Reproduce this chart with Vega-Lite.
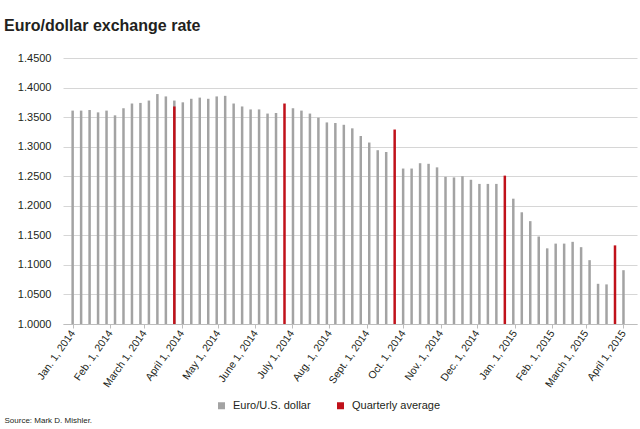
{
  "$schema": "https://vega.github.io/schema/vega-lite/v6.json",
  "width": 574,
  "height": 266,
  "autosize": "none",
  "padding": {"left": 63, "top": 58, "right": 3, "bottom": 105},
  "background": "white",
  "config": {
    "view": {"stroke": null},
    "font": "Liberation Sans",
    "text": {"color": "#231f20"}
  },
  "title": {
    "text": "Euro/dollar exchange rate",
    "anchor": "start",
    "frame": "group",
    "dx": -59,
    "offset": 18,
    "font": "Liberation Sans",
    "fontSize": 16,
    "fontWeight": "bold",
    "color": "#231f20"
  },
  "data": {
    "values": [
      {"date": "2014-01-01", "rate": 1.361, "series": "Euro/U.S. dollar"},
      {"date": "2014-01-08", "rate": 1.361, "series": "Euro/U.S. dollar"},
      {"date": "2014-01-15", "rate": 1.362, "series": "Euro/U.S. dollar"},
      {"date": "2014-01-22", "rate": 1.358, "series": "Euro/U.S. dollar"},
      {"date": "2014-01-29", "rate": 1.361, "series": "Euro/U.S. dollar"},
      {"date": "2014-02-05", "rate": 1.353, "series": "Euro/U.S. dollar"},
      {"date": "2014-02-12", "rate": 1.365, "series": "Euro/U.S. dollar"},
      {"date": "2014-02-19", "rate": 1.373, "series": "Euro/U.S. dollar"},
      {"date": "2014-02-26", "rate": 1.374, "series": "Euro/U.S. dollar"},
      {"date": "2014-03-05", "rate": 1.378, "series": "Euro/U.S. dollar"},
      {"date": "2014-03-12", "rate": 1.389, "series": "Euro/U.S. dollar"},
      {"date": "2014-03-19", "rate": 1.385, "series": "Euro/U.S. dollar"},
      {"date": "2014-03-26", "rate": 1.378, "series": "Euro/U.S. dollar"},
      {"date": "2014-04-02", "rate": 1.375, "series": "Euro/U.S. dollar"},
      {"date": "2014-04-09", "rate": 1.381, "series": "Euro/U.S. dollar"},
      {"date": "2014-04-16", "rate": 1.383, "series": "Euro/U.S. dollar"},
      {"date": "2014-04-23", "rate": 1.381, "series": "Euro/U.S. dollar"},
      {"date": "2014-04-30", "rate": 1.385, "series": "Euro/U.S. dollar"},
      {"date": "2014-05-07", "rate": 1.386, "series": "Euro/U.S. dollar"},
      {"date": "2014-05-14", "rate": 1.373, "series": "Euro/U.S. dollar"},
      {"date": "2014-05-21", "rate": 1.368, "series": "Euro/U.S. dollar"},
      {"date": "2014-05-28", "rate": 1.363, "series": "Euro/U.S. dollar"},
      {"date": "2014-06-04", "rate": 1.363, "series": "Euro/U.S. dollar"},
      {"date": "2014-06-11", "rate": 1.356, "series": "Euro/U.S. dollar"},
      {"date": "2014-06-18", "rate": 1.357, "series": "Euro/U.S. dollar"},
      {"date": "2014-07-02", "rate": 1.365, "series": "Euro/U.S. dollar"},
      {"date": "2014-07-09", "rate": 1.361, "series": "Euro/U.S. dollar"},
      {"date": "2014-07-16", "rate": 1.356, "series": "Euro/U.S. dollar"},
      {"date": "2014-07-23", "rate": 1.349, "series": "Euro/U.S. dollar"},
      {"date": "2014-07-30", "rate": 1.341, "series": "Euro/U.S. dollar"},
      {"date": "2014-08-06", "rate": 1.340, "series": "Euro/U.S. dollar"},
      {"date": "2014-08-13", "rate": 1.337, "series": "Euro/U.S. dollar"},
      {"date": "2014-08-20", "rate": 1.331, "series": "Euro/U.S. dollar"},
      {"date": "2014-08-27", "rate": 1.318, "series": "Euro/U.S. dollar"},
      {"date": "2014-09-03", "rate": 1.307, "series": "Euro/U.S. dollar"},
      {"date": "2014-09-10", "rate": 1.294, "series": "Euro/U.S. dollar"},
      {"date": "2014-09-17", "rate": 1.291, "series": "Euro/U.S. dollar"},
      {"date": "2014-10-01", "rate": 1.263, "series": "Euro/U.S. dollar"},
      {"date": "2014-10-08", "rate": 1.263, "series": "Euro/U.S. dollar"},
      {"date": "2014-10-15", "rate": 1.272, "series": "Euro/U.S. dollar"},
      {"date": "2014-10-22", "rate": 1.271, "series": "Euro/U.S. dollar"},
      {"date": "2014-10-29", "rate": 1.265, "series": "Euro/U.S. dollar"},
      {"date": "2014-11-05", "rate": 1.249, "series": "Euro/U.S. dollar"},
      {"date": "2014-11-12", "rate": 1.248, "series": "Euro/U.S. dollar"},
      {"date": "2014-11-19", "rate": 1.250, "series": "Euro/U.S. dollar"},
      {"date": "2014-11-26", "rate": 1.244, "series": "Euro/U.S. dollar"},
      {"date": "2014-12-03", "rate": 1.237, "series": "Euro/U.S. dollar"},
      {"date": "2014-12-10", "rate": 1.237, "series": "Euro/U.S. dollar"},
      {"date": "2014-12-17", "rate": 1.237, "series": "Euro/U.S. dollar"},
      {"date": "2014-12-31", "rate": 1.212, "series": "Euro/U.S. dollar"},
      {"date": "2015-01-07", "rate": 1.189, "series": "Euro/U.S. dollar"},
      {"date": "2015-01-14", "rate": 1.174, "series": "Euro/U.S. dollar"},
      {"date": "2015-01-21", "rate": 1.148, "series": "Euro/U.S. dollar"},
      {"date": "2015-01-28", "rate": 1.128, "series": "Euro/U.S. dollar"},
      {"date": "2015-02-04", "rate": 1.136, "series": "Euro/U.S. dollar"},
      {"date": "2015-02-11", "rate": 1.136, "series": "Euro/U.S. dollar"},
      {"date": "2015-02-18", "rate": 1.139, "series": "Euro/U.S. dollar"},
      {"date": "2015-02-25", "rate": 1.130, "series": "Euro/U.S. dollar"},
      {"date": "2015-03-04", "rate": 1.108, "series": "Euro/U.S. dollar"},
      {"date": "2015-03-11", "rate": 1.068, "series": "Euro/U.S. dollar"},
      {"date": "2015-03-18", "rate": 1.067, "series": "Euro/U.S. dollar"},
      {"date": "2015-04-01", "rate": 1.091, "series": "Euro/U.S. dollar"},
      {"date": "2014-03-26", "rate": 1.368, "series": "Quarterly average"},
      {"date": "2014-06-25", "rate": 1.373, "series": "Quarterly average"},
      {"date": "2014-09-24", "rate": 1.329, "series": "Quarterly average"},
      {"date": "2014-12-24", "rate": 1.251, "series": "Quarterly average"},
      {"date": "2015-03-25", "rate": 1.133, "series": "Quarterly average"}
    ]
  },
  "mark": {"type": "bar", "size": 2.5},
  "encoding": {
    "x": {
      "field": "date",
      "type": "temporal",
      "scale": {
        "type": "utc",
        "domain": [
          {"year": 2013, "month": 12, "date": 28, "hours": 4, "utc": true},
          {"year": 2015, "month": 4, "date": 8, "hours": 1, "utc": true}
        ]
      },
      "axis": {
        "values": [
          {"year": 2014, "month": 1, "date": 1, "utc": true},
          {"year": 2014, "month": 2, "date": 1, "utc": true},
          {"year": 2014, "month": 3, "date": 1, "utc": true},
          {"year": 2014, "month": 4, "date": 1, "utc": true},
          {"year": 2014, "month": 5, "date": 1, "utc": true},
          {"year": 2014, "month": 6, "date": 1, "utc": true},
          {"year": 2014, "month": 7, "date": 1, "utc": true},
          {"year": 2014, "month": 8, "date": 1, "utc": true},
          {"year": 2014, "month": 9, "date": 1, "utc": true},
          {"year": 2014, "month": 10, "date": 1, "utc": true},
          {"year": 2014, "month": 11, "date": 1, "utc": true},
          {"year": 2014, "month": 12, "date": 1, "utc": true},
          {"year": 2015, "month": 1, "date": 1, "utc": true},
          {"year": 2015, "month": 2, "date": 1, "utc": true},
          {"year": 2015, "month": 3, "date": 1, "utc": true},
          {"year": 2015, "month": 4, "date": 1, "utc": true}
        ],
        "labelExpr": "['Jan.','Feb.','March','April','May','June','July','Aug.','Sept.','Oct.','Nov.','Dec.'][utcmonth(datum.value)] + ' 1, ' + utcyear(datum.value)",
        "labelAngle": -55,
        "labelAlign": "right",
        "labelBaseline": "middle",
        "labelFontSize": 10.5,
        "labelColor": "#231f20",
        "labelPadding": 3,
        "labelOverlap": false,
        "labelFlush": false,
        "tickSize": 4,
        "tickColor": "#bdbdbd",
        "domainColor": "#bdbdbd",
        "grid": false,
        "title": "Source: Mark D. Mishler.",
        "titleX": -59,
        "titleY": 98,
        "titleAlign": "left",
        "titleAnchor": "start",
        "titleBaseline": "alphabetic",
        "titleFontSize": 8,
        "titleFontWeight": "normal",
        "titleColor": "#231f20"
      }
    },
    "y": {
      "field": "rate",
      "type": "quantitative",
      "scale": {"domain": [1, 1.45], "zero": false, "nice": false},
      "axis": {
        "values": [1, 1.05, 1.1, 1.15, 1.2, 1.25, 1.3, 1.35, 1.4, 1.45],
        "format": ".4f",
        "title": null,
        "domain": false,
        "ticks": false,
        "labelPadding": 12,
        "labelFontSize": 11,
        "labelColor": "#231f20",
        "gridColor": "#d6d6d6",
        "gridWidth": 1
      }
    },
    "y2": {"datum": 1},
    "color": {
      "field": "series",
      "type": "nominal",
      "scale": {
        "domain": ["Euro/U.S. dollar", "Quarterly average"],
        "range": ["#a3a3a3", "#c0111a"]
      },
      "legend": {
        "title": null,
        "orient": "none",
        "direction": "horizontal",
        "legendX": 153,
        "legendY": 342,
        "padding": 0,
        "symbolType": "square",
        "symbolSize": 49,
        "symbolStrokeWidth": 0,
        "labelFontSize": 11,
        "labelColor": "#231f20",
        "labelOffset": 6,
        "columnPadding": 24
      }
    }
  }
}
